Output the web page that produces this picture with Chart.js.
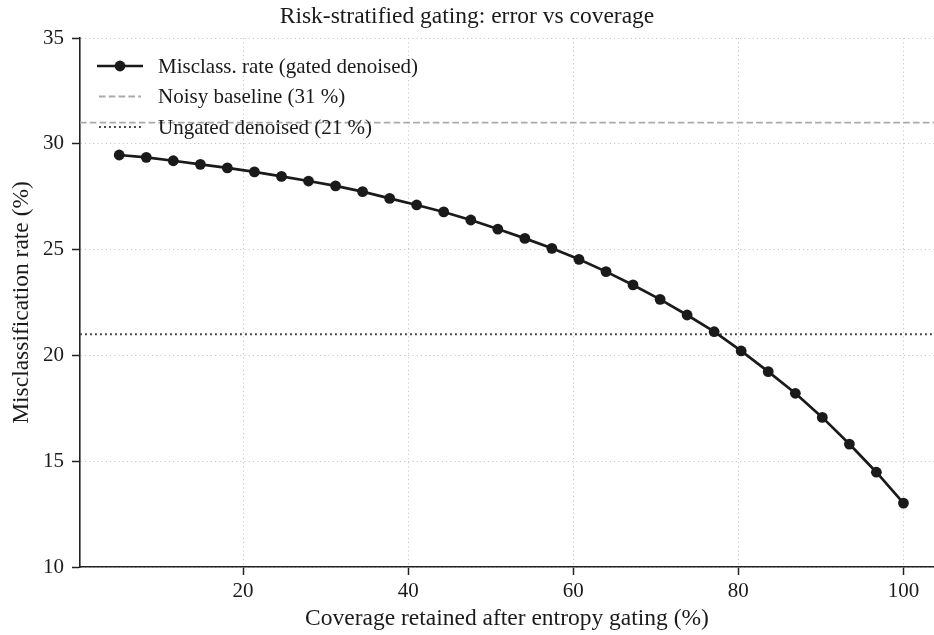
<!DOCTYPE html>
<html>
<head>
<meta charset="utf-8">
<script src="https://cdn.jsdelivr.net/npm/chart.js@4.4.1/dist/chart.umd.min.js"></script>
<style>
  html, body { margin: 0; padding: 0; background: #ffffff; overflow: hidden; }
  #wrap { width: 934px; height: 635px; }
</style>
</head>
<body>
<div id="wrap"><canvas id="c" width="934" height="635"></canvas></div>
<script>
// ---- data ----
const coverage = [5.00, 8.28, 11.55, 14.83, 18.10, 21.38, 24.66, 27.93, 31.21, 34.48,
                  37.76, 41.03, 44.31, 47.59, 50.86, 54.14, 57.41, 60.69, 63.97, 67.24,
                  70.52, 73.79, 77.07, 80.34, 83.62, 86.90, 90.17, 93.45, 96.72, 100.00];
const misclassRate = [29.47, 29.36, 29.20, 29.03, 28.86, 28.67, 28.46, 28.24, 28.01, 27.74,
                      27.42, 27.11, 26.78, 26.40, 25.97, 25.53, 25.06, 24.54, 23.96, 23.33,
                      22.65, 21.91, 21.12, 20.21, 19.23, 18.21, 17.07, 15.81, 14.48, 13.02];
const noisyBaseline = 31;
const ungatedDenoised = 21;
const xTicks = [20, 40, 60, 80, 100];
const yTicks = [10, 15, 20, 25, 30, 35];
const seriesLabels = ['Misclass. rate (gated denoised)', 'Noisy baseline (31 %)', 'Ungated denoised (21 %)'];
const titleText = 'Risk-stratified gating: error vs coverage';
const xLabel = 'Coverage retained after entropy gating (%)';
const yLabel = 'Misclassification rate (%)';

const X_MIN = 0.25, X_MAX = 103.7, Y_MIN = 10, Y_MAX = 35;
const FONT = "'Liberation Serif', 'Times New Roman', serif";
const INK = '#1a1a1a';

const legendPlugin = {
  id: 'inlineLegend',
  afterDraw(chart) {
    const ctx = chart.ctx;
    const x0 = 97, x1 = 143, tx = 158, y0 = 66, dy = 30.5;
    ctx.save();
    ctx.font = "21px " + FONT;
    ctx.textBaseline = 'middle';
    ctx.textAlign = 'left';
    chart.data.datasets.forEach((ds, i) => {
      const y = y0 + i * dy;
      ctx.save();
      ctx.strokeStyle = ds.borderColor;
      ctx.lineWidth = ds.borderWidth;
      ctx.setLineDash(ds.borderDash || []);
      ctx.beginPath();
      ctx.moveTo(i === 0 ? x0 : x0 + 2, y);
      ctx.lineTo(i === 0 ? x1 : x1 - 2, y);
      ctx.stroke();
      ctx.restore();
      if (ds.pointRadius > 0) {
        ctx.beginPath();
        ctx.fillStyle = ds.backgroundColor;
        ctx.arc((x0 + x1) / 2, y, ds.pointRadius, 0, Math.PI * 2);
        ctx.fill();
      }
      ctx.fillStyle = INK;
      ctx.fillText(ds.label, tx, y + 1);
    });
    ctx.restore();
  }
};

new Chart(document.getElementById('c'), {
  type: 'line',
  data: {
    datasets: [
      {
        label: seriesLabels[0],
        data: coverage.map((x, i) => ({ x: x, y: misclassRate[i] })),
        borderColor: INK,
        backgroundColor: INK,
        borderWidth: 2.7,
        pointRadius: 5.4,
        pointHoverRadius: 5.4,
        pointBorderWidth: 0,
        tension: 0
      },
      {
        label: seriesLabels[1],
        data: [{ x: X_MIN, y: noisyBaseline }, { x: X_MAX, y: noisyBaseline }],
        borderColor: '#aaaaaa',
        backgroundColor: '#aaaaaa',
        borderWidth: 1.9,
        borderDash: [6.6, 3.2],
        pointRadius: 0
      },
      {
        label: seriesLabels[2],
        data: [{ x: X_MIN, y: ungatedDenoised }, { x: X_MAX, y: ungatedDenoised }],
        borderColor: '#444444',
        backgroundColor: '#444444',
        borderWidth: 1.9,
        borderDash: [1.9, 3.1],
        pointRadius: 0
      }
    ]
  },
  options: {
    responsive: false,
    animation: false,
    events: [],
    layout: { autoPadding: false, padding: { left: 0, right: 0, top: 0, bottom: 0 } },
    plugins: {
      legend: { display: false },
      tooltip: { enabled: false },
      title: {
        display: true,
        text: titleText,
        color: INK,
        font: { family: FONT, size: 23.5, weight: 'normal', lineHeight: 1.2 },
        padding: { top: 3, bottom: 6.8 }
      }
    },
    scales: {
      x: {
        type: 'linear',
        min: X_MIN,
        max: X_MAX,
        afterBuildTicks(scale) { scale.ticks = xTicks.map(v => ({ value: v })); },
        afterFit(scale) { scale.height = 68; scale.paddingLeft = 0; scale.paddingRight = 0; },
        ticks: {
          color: INK,
          font: { family: FONT, size: 21 },
          padding: 4,
          maxRotation: 0,
          autoSkip: false,
          callback: v => String(v)
        },
        grid: {
          color: '#c8c8c8',
          lineWidth: 1,
          tickColor: '#222222',
          tickWidth: 1.5,
          tickLength: 8,
          tickBorderDash: []
        },
        border: { display: true, color: '#222222', width: 1.6, dash: [1.2, 3] },
        title: {
          display: true,
          text: xLabel,
          color: INK,
          font: { family: FONT, size: 23.5, lineHeight: 1.2 },
          padding: { top: 0, bottom: 2 }
        }
      },
      y: {
        type: 'linear',
        min: Y_MIN,
        max: Y_MAX,
        afterBuildTicks(scale) { scale.ticks = yTicks.map(v => ({ value: v })); },
        afterFit(scale) { scale.width = 80; scale.paddingTop = 0; scale.paddingBottom = 0; },
        ticks: {
          color: INK,
          font: { family: FONT, size: 21 },
          padding: 8,
          autoSkip: false,
          callback: v => String(v)
        },
        grid: {
          color: '#c8c8c8',
          lineWidth: 1,
          tickColor: '#222222',
          tickWidth: 1.5,
          tickLength: 8,
          tickBorderDash: []
        },
        border: { display: true, color: '#222222', width: 1.6, dash: [1.2, 3] },
        title: {
          display: true,
          text: yLabel,
          color: INK,
          font: { family: FONT, size: 23.5, lineHeight: 1.2 },
          padding: { top: 8, bottom: 0 }
        }
      }
    }
  },
  plugins: [legendPlugin]
});
</script>
</body>
</html>
